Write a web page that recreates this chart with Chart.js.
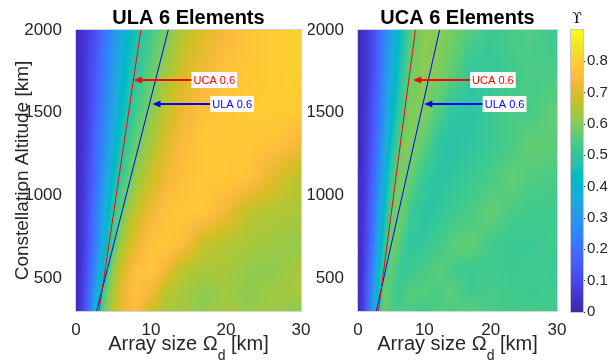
<!DOCTYPE html>
<html>
<head>
<meta charset="utf-8">
<script src="https://cdn.jsdelivr.net/npm/chart.js@4.4.1/dist/chart.umd.min.js"></script>
<style>
  body { margin: 0; background: #fff; }
  .wrap { position: relative; width: 610px; height: 364px; }
  .wrap canvas { position: absolute; left: 0; top: 0; }
</style>
</head>
<body>
<div class="wrap">
  <canvas id="ula-chart" width="610" height="364"></canvas>
  <canvas id="uca-chart" width="610" height="364"></canvas>
  <canvas id="cbar-chart" width="610" height="364"></canvas>
</div>
<script>
// grid of the surface (array size in km, altitude in km)
const arraySizeKm = [0, 0.5, 1, 1.5, 2, 2.5, 3, 4, 5, 6, 7, 8, 10, 12, 14, 17, 20, 23, 26, 30];
const altitudeKm = [300, 400, 550, 700, 900, 1100, 1300, 1500, 1750, 2000];

// Upsilon values, one row per altitude (bottom to top)
const ulaValues = [
  [.02, .05, .10, .17, .26, .37, .48, .60, .66, .71, .74, .76, .68, .64, .64, .61, .64, .62, .63, .60],
  [.02, .05, .09, .15, .23, .32, .41, .57, .65, .71, .75, .77, .73, .65, .64, .61, .63, .61, .63, .64],
  [.02, .04, .08, .13, .19, .26, .34, .50, .62, .68, .72, .76, .78, .73, .66, .64, .64, .62, .61, .64],
  [.02, .04, .07, .12, .17, .22, .29, .42, .55, .63, .68, .72, .77, .78, .76, .67, .65, .64, .63, .62],
  [.02, .04, .07, .11, .16, .21, .27, .38, .50, .58, .63, .67, .73, .77, .78, .78, .73, .66, .65, .64],
  [.02, .04, .06, .10, .14, .18, .23, .33, .43, .51, .57, .62, .68, .73, .76, .78, .78, .77, .71, .65],
  [.02, .03, .06, .09, .13, .17, .21, .30, .39, .47, .52, .58, .64, .70, .75, .78, .78, .78, .77, .73],
  [.02, .03, .05, .08, .12, .15, .19, .27, .35, .43, .48, .53, .61, .67, .72, .77, .78, .79, .79, .79],
  [.02, .03, .05, .08, .11, .13, .17, .24, .31, .39, .45, .49, .57, .63, .68, .73, .77, .78, .79, .80],
  [.02, .03, .05, .07, .10, .12, .15, .22, .28, .36, .42, .46, .53, .59, .65, .70, .74, .77, .79, .80]
];
const ucaValues = [
  [.02, .05, .10, .18, .28, .38, .48, .57, .55, .53, .55, .54, .53, .55, .54, .56, .54, .53, .54, .53],
  [.02, .05, .10, .17, .26, .35, .44, .58, .55, .52, .54, .56, .55, .54, .56, .53, .54, .53, .52, .53],
  [.02, .04, .09, .15, .22, .30, .39, .55, .57, .53, .51, .52, .54, .56, .54, .52, .53, .52, .53, .52],
  [.02, .04, .08, .13, .19, .26, .34, .49, .59, .57, .52, .50, .51, .53, .56, .57, .53, .52, .52, .53],
  [.02, .04, .07, .12, .17, .23, .30, .44, .56, .59, .57, .52, .49, .50, .52, .54, .57, .54, .53, .53],
  [.02, .04, .06, .10, .15, .20, .26, .39, .51, .59, .59, .57, .51, .49, .50, .52, .54, .57, .55, .54],
  [.02, .03, .06, .09, .13, .17, .22, .34, .45, .54, .60, .60, .56, .50, .48, .50, .52, .54, .57, .56],
  [.02, .03, .05, .08, .12, .15, .19, .30, .40, .48, .56, .60, .60, .55, .50, .49, .52, .54, .54, .57],
  [.02, .03, .05, .07, .10, .13, .17, .27, .36, .44, .52, .58, .61, .60, .57, .51, .51, .53, .54, .54],
  [.02, .03, .05, .07, .10, .12, .16, .25, .33, .41, .48, .56, .61, .61, .59, .55, .52, .54, .55, .52]
];

// 0.6 contour fits
const contourAlt = [300, 2000];
const ucaContourX = [3.07, 8.65];
const ulaContourX = [2.76, 12.3];

// arrow annotations
const arrowLabels = ['UCA 0.6', 'ULA 0.6'];
const arrowAlt = [1700, 1550];
const ulaPanelTail = [15.4, 17.9];
const ulaPanelTip = [7.7, 10.2];
const ucaPanelTail = [16.9, 18.8];
const ucaPanelTip = [8.3, 10.0];

const xTickValues = [0, 10, 20, 30];
const yTickValues = [500, 1000, 1500, 2000];
const cbarTickValues = [0, 0.1, 0.2, 0.3, 0.4, 0.5, 0.6, 0.7, 0.8];
const colorMax = 0.9;

// parula (R2014b) colormap
const parula = [
  [0.2422,0.1504,0.6603],[0.2504,0.1650,0.7076],[0.2578,0.1818,0.7511],[0.2647,0.1978,0.7952],
  [0.2706,0.2147,0.8364],[0.2751,0.2342,0.8710],[0.2783,0.2559,0.8991],[0.2803,0.2782,0.9221],
  [0.2813,0.3006,0.9414],[0.2810,0.3228,0.9579],[0.2795,0.3447,0.9717],[0.2760,0.3667,0.9829],
  [0.2699,0.3892,0.9906],[0.2602,0.4123,0.9952],[0.2440,0.4358,0.9988],[0.2206,0.4603,0.9973],
  [0.1963,0.4847,0.9892],[0.1834,0.5074,0.9798],[0.1786,0.5289,0.9682],[0.1764,0.5499,0.9520],
  [0.1687,0.5703,0.9359],[0.1540,0.5902,0.9218],[0.1460,0.6091,0.9079],[0.1380,0.6276,0.8973],
  [0.1248,0.6459,0.8883],[0.1113,0.6635,0.8763],[0.0952,0.6798,0.8598],[0.0689,0.6948,0.8394],
  [0.0297,0.7082,0.8163],[0.0036,0.7203,0.7917],[0.0067,0.7312,0.7660],[0.0433,0.7411,0.7394],
  [0.0964,0.7500,0.7120],[0.1408,0.7584,0.6842],[0.1717,0.7670,0.6554],[0.1938,0.7758,0.6251],
  [0.2161,0.7843,0.5923],[0.2470,0.7918,0.5567],[0.2906,0.7973,0.5188],[0.3406,0.8008,0.4789],
  [0.3909,0.8029,0.4354],[0.4456,0.8024,0.3909],[0.5044,0.7993,0.3480],[0.5616,0.7942,0.3045],
  [0.6174,0.7876,0.2612],[0.6720,0.7793,0.2227],[0.7242,0.7698,0.1910],[0.7738,0.7598,0.1646],
  [0.8203,0.7498,0.1535],[0.8634,0.7406,0.1596],[0.9035,0.7330,0.1774],[0.9393,0.7288,0.2100],
  [0.9728,0.7298,0.2394],[0.9956,0.7434,0.2371],[0.9970,0.7659,0.2199],[0.9952,0.7893,0.2028],
  [0.9892,0.8136,0.1885],[0.9786,0.8386,0.1766],[0.9676,0.8639,0.1643],[0.9610,0.8890,0.1537],
  [0.9597,0.9135,0.1423],[0.9628,0.9373,0.1265],[0.9691,0.9606,0.1064],[0.9769,0.9839,0.0805]
];

const FONT = '"Liberation Sans", Arial, sans-serif';
const TICK_COLOR = '#262626';
Chart.defaults.font.family = FONT;

function parulaColor(v) {
  const t = Math.min(1, Math.max(0, v / colorMax)) * (parula.length - 1);
  const i = Math.min(parula.length - 2, Math.floor(t));
  const f = t - i;
  return parula[i].map((c, k) => Math.round(255 * (c + (parula[i + 1][k] - c) * f)));
}

function findCell(nodes, v) {
  let i = 0;
  while (i < nodes.length - 2 && v > nodes[i + 1]) i++;
  const f = Math.min(1, Math.max(0, (v - nodes[i]) / (nodes[i + 1] - nodes[i])));
  return [i, f];
}

// shading between grid nodes (like shading interp)
function sampleGrid(values, km, alt) {
  const [i, fx] = findCell(arraySizeKm, km);
  const [j, fy] = findCell(altitudeKm, alt);
  const a = values[j][i] * (1 - fx) + values[j][i + 1] * fx;
  const b = values[j + 1][i] * (1 - fx) + values[j + 1][i + 1] * fx;
  return a * (1 - fy) + b * fy;
}

function heatmapPlugin(values) {
  return {
    id: 'heatmap',
    beforeDatasetsDraw(chart) {
      const { ctx, chartArea: a, scales: { x, y } } = chart;
      const w = Math.round(a.right - a.left);
      const h = Math.round(a.bottom - a.top);
      const off = document.createElement('canvas');
      off.width = w;
      off.height = h;
      const octx = off.getContext('2d');
      const img = octx.createImageData(w, h);
      for (let j = 0; j < h; j++) {
        const alt = y.getValueForPixel(a.top + j + 0.5);
        for (let i = 0; i < w; i++) {
          const km = x.getValueForPixel(a.left + i + 0.5);
          const c = parulaColor(sampleGrid(values, km, alt));
          const k = (j * w + i) * 4;
          img.data[k] = c[0];
          img.data[k + 1] = c[1];
          img.data[k + 2] = c[2];
          img.data[k + 3] = 255;
        }
      }
      octx.putImageData(img, 0, 0);
      ctx.save();
      ctx.drawImage(off, a.left, a.top);
      ctx.strokeStyle = '#d4d4d4';
      ctx.lineWidth = 1;
      ctx.strokeRect(a.left - 0.5, a.top - 0.5, w + 1, h + 1);
      ctx.restore();
    }
  };
}

function arrowPlugin(tails, tips) {
  const colors = ['#ff0000', '#0000ff'];
  return {
    id: 'arrows',
    afterDatasetsDraw(chart) {
      const { ctx, scales: { x, y } } = chart;
      ctx.save();
      ctx.font = '11px ' + FONT;
      arrowLabels.forEach((label, n) => {
        const py = Math.round(y.getPixelForValue(arrowAlt[n]));
        const tail = x.getPixelForValue(tails[n]);
        const tip = x.getPixelForValue(tips[n]);
        ctx.strokeStyle = colors[n];
        ctx.fillStyle = colors[n];
        ctx.lineWidth = 2;
        ctx.beginPath();
        ctx.moveTo(tail, py);
        ctx.lineTo(tip + 6, py);
        ctx.stroke();
        ctx.beginPath();
        ctx.moveTo(tip, py);
        ctx.lineTo(tip + 8, py - 3.5);
        ctx.lineTo(tip + 8, py + 3.5);
        ctx.closePath();
        ctx.fill();
        const tw = ctx.measureText(label).width;
        ctx.fillStyle = '#ffffff';
        ctx.fillRect(tail, py - 8, tw + 4, 16);
        ctx.fillStyle = colors[n];
        ctx.textBaseline = 'middle';
        ctx.textAlign = 'left';
        ctx.fillText(label, tail + 2, py + 0.5);
      });
      ctx.restore();
    }
  };
}

const axisLabelPlugin = (withYLabel) => ({
  id: 'axisLabels',
  afterDraw(chart) {
    const { ctx, chartArea: a } = chart;
    ctx.save();
    ctx.fillStyle = TICK_COLOR;
    ctx.textBaseline = 'alphabetic';
    // x label with subscript d
    const main = '20px ' + FONT, sub = '14px ' + FONT;
    ctx.font = main;
    const w1 = ctx.measureText('Array size \u03A9').width;
    const w3 = ctx.measureText(' [km]').width;
    ctx.font = sub;
    const w2 = ctx.measureText('d').width;
    let cx = (a.left + a.right) / 2 - (w1 + w2 + w3) / 2;
    ctx.textAlign = 'left';
    ctx.font = main;
    ctx.fillText('Array size \u03A9', cx, 350);
    ctx.font = sub;
    ctx.fillText('d', cx + w1, 360);
    ctx.font = main;
    ctx.fillText(' [km]', cx + w1 + w2, 350);
    if (withYLabel) {
      ctx.translate(28, (a.top + a.bottom) / 2);
      ctx.rotate(-Math.PI / 2);
      ctx.textAlign = 'center';
      ctx.font = '19px ' + FONT;
      ctx.fillText('Constellation Altitude [km]', 0, 0);
    }
    ctx.restore();
  }
});

function panelConfig(title, values, tails, tips, pad, yWidth, withYLabel) {
  return {
    type: 'scatter',
    data: {
      datasets: [
        {
          data: contourAlt.map((alt, i) => ({ x: ucaContourX[i], y: alt })),
          showLine: true, borderColor: '#ff0000', borderWidth: 1, pointRadius: 0
        },
        {
          data: contourAlt.map((alt, i) => ({ x: ulaContourX[i], y: alt })),
          showLine: true, borderColor: '#0000ff', borderWidth: 1, pointRadius: 0
        }
      ]
    },
    options: {
      responsive: false,
      animation: false,
      devicePixelRatio: 1,
      layout: { padding: pad },
      plugins: {
        legend: { display: false },
        tooltip: { enabled: false },
        title: {
          display: true,
          text: title,
          fullSize: false,
          color: '#000',
          font: { size: 20, weight: 'bold' },
          padding: { top: 6, bottom: 0 }
        }
      },
      scales: {
        x: {
          type: 'linear', min: 0, max: 30,
          grid: { display: false }, border: { display: false },
          ticks: { color: TICK_COLOR, font: { size: 17 }, padding: 1, maxRotation: 0, callback: v => String(v) },
          afterBuildTicks: s => { s.ticks = xTickValues.map(v => ({ value: v })); },
          afterFit: s => { s.height = 53; s.paddingLeft = 0; s.paddingRight = 0; }
        },
        y: {
          type: 'linear', min: 300, max: 2000,
          grid: { display: false }, border: { display: false },
          ticks: { color: TICK_COLOR, font: { size: 17 }, padding: 6, callback: v => String(v) },
          afterBuildTicks: s => { s.ticks = yTickValues.map(v => ({ value: v })); },
          afterFit: s => { s.width = yWidth; s.paddingTop = 0; s.paddingBottom = 0; }
        }
      }
    },
    plugins: [heatmapPlugin(values), arrowPlugin(tails, tips), axisLabelPlugin(withYLabel)]
  };
}

new Chart(document.getElementById('ula-chart'),
  panelConfig('ULA 6 Elements', ulaValues, ulaPanelTail, ulaPanelTip,
    { left: 0, right: 309, top: 0, bottom: 0 }, 76, true));

new Chart(document.getElementById('uca-chart'),
  panelConfig('UCA 6 Elements', ucaValues, ucaPanelTail, ucaPanelTip,
    { left: 308, right: 53, top: 0, bottom: 0 }, 50, false));

// colorbar
new Chart(document.getElementById('cbar-chart'), {
  type: 'scatter',
  data: { datasets: [] },
  options: {
    responsive: false,
    animation: false,
    devicePixelRatio: 1,
    layout: { padding: { left: 571, right: 0, top: 0, bottom: 52 } },
    plugins: {
      legend: { display: false },
      tooltip: { enabled: false },
      title: {
        display: true,
        text: '\u03D2',
        fullSize: false,
        color: '#000',
        font: { size: 14, family: '"DejaVu Serif", "Liberation Serif", serif', weight: 'normal' },
        padding: { top: 11, bottom: 2.2 }
      }
    },
    scales: {
      x: { type: 'linear', display: false, min: 0, max: 1 },
      y: {
        type: 'linear', position: 'right', min: 0, max: colorMax,
        border: { display: false },
        grid: { drawOnChartArea: false, drawTicks: true, tickLength: 2, color: '#333' },
        ticks: { color: TICK_COLOR, font: { size: 15 }, padding: 2, callback: v => String(v) },
        afterBuildTicks: s => { s.ticks = cbarTickValues.map(v => ({ value: v })); },
        afterFit: s => { s.width = 27; s.paddingTop = 0; s.paddingBottom = 0; }
      }
    }
  },
  plugins: [{
    id: 'colorbar',
    beforeDatasetsDraw(chart) {
      const { ctx, chartArea: a, scales: { y } } = chart;
      ctx.save();
      for (let py = Math.floor(a.top); py < a.bottom; py++) {
        const c = parulaColor(y.getValueForPixel(py + 0.5));
        ctx.fillStyle = `rgb(${c[0]},${c[1]},${c[2]})`;
        ctx.fillRect(a.left, py, a.right - a.left, 1);
      }
      ctx.strokeStyle = '#c8c8c8';
      ctx.lineWidth = 1;
      ctx.strokeRect(a.left - 0.5, a.top - 0.5, a.right - a.left + 1, a.bottom - a.top + 1);
      ctx.restore();
    }
  }]
});
</script>
</body>
</html>
